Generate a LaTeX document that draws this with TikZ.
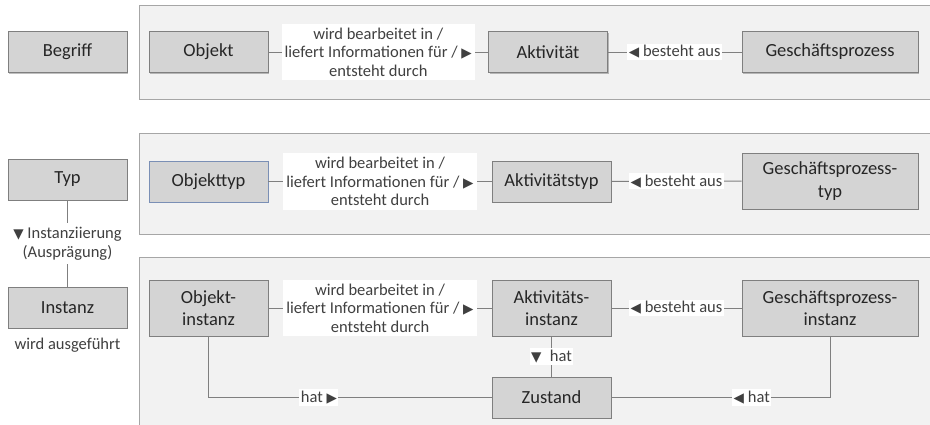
\documentclass[tikz,border=0pt]{standalone}
\usepackage{fontspec}
\setmainfont{Carlito}
\newfontfamily\symf{DejaVu Sans}
\usetikzlibrary{shadows}
\definecolor{panelfill}{HTML}{F2F2F2}
\definecolor{panelline}{HTML}{A6A6A6}
\definecolor{boxfill}{HTML}{D4D4D4}
\definecolor{boxline}{HTML}{7F7F7F}
\definecolor{boxtext}{HTML}{262626}
\definecolor{lbltext}{HTML}{404040}
\definecolor{wire}{HTML}{7F7F7F}
\definecolor{bluish}{HTML}{7A8FB5}
\newcommand{\tri}[1]{{\symf\fontsize{13.5}{13.5}\selectfont #1}}
\begin{document}
\begin{tikzpicture}[x=1pt,y=-1pt,
  panel/.style={fill=panelfill,draw=panelline,line width=0.9pt},
  box/.style={draw=boxline,fill=boxfill,line width=0.9pt,align=center,
    text=boxtext,inner sep=0pt,minimum width=119pt,minimum height=41pt,
    font=\fontsize{18.5}{22.5}\selectfont,
    drop shadow={shadow xshift=1.2pt,shadow yshift=-1.2pt,opacity=0.25,fill=black}},
  wide/.style={minimum width=176pt},
  tall/.style={minimum height=56pt},
  lbl/.style={fill=white,text=lbltext,align=center,inner xsep=1.5pt,inner ysep=1.5pt,
    font=\fontsize{16.5}{18.5}\selectfont},
  biglbl/.style={lbl,inner xsep=3pt,inner ysep=4pt},
  plain/.style={text=lbltext,align=center,inner sep=0pt,font=\fontsize{16.5}{18.5}\selectfont},
  wirestyle/.style={draw=wire,line width=0.9pt}
]
\clip (0,0) rectangle (930,424);
\fill[white] (0,0) rectangle (930,424);
% panels
\draw[panel] (139,5) rectangle (940,99);
\draw[panel] (139,133) rectangle (940,234);
\draw[panel] (139,257) rectangle (940,440);

% left column
\node[box] (begriff) at (67.5,52) {Begriff};
\node[box] (typ) at (67.5,179.5) {Typ};
\node[box] (instanz) at (67.5,307.5) {Instanz};
\node[plain] (ausg) at (67.5,345) {wird ausgeführt};
\draw[wirestyle] (typ) -- node[lbl,inner ysep=4pt,inner xsep=1pt]{\tri{▼} Instanziierung\\(Ausprägung)} (instanz);

% row 1
\node[box] (objekt) at (208.5,52) {Objekt};
\node[box] (akt) at (548,52) {Aktivität};
\node[box,wide] (gp) at (830,52) {Geschäftsprozess};
\draw[wirestyle] (objekt) -- node[biglbl]{wird bearbeitet in /\\liefert Informationen für / \tri{▶}\\entsteht durch} (akt);
\draw[wirestyle] (gp) -- node[lbl]{\tri{◀} besteht aus} (akt);

% row 2
\node[box,draw=bluish] (objtyp) at (208.5,181.5) {Objekttyp};
\node[box] (akttyp) at (551.5,181.5) {Aktivitätstyp};
\node[box,wide,tall] (gptyp) at (830,181) {Geschäftsprozess-\\typ};
\draw[wirestyle] (objtyp) -- node[biglbl]{wird bearbeitet in /\\liefert Informationen für / \tri{▶}\\entsteht durch} (akttyp);
\draw[wirestyle] (gptyp) -- node[lbl]{\tri{◀} besteht aus} (akttyp);

% row 3
\node[box,tall] (objinst) at (208.5,308) {Objekt-\\instanz};
\node[box,tall] (aktinst) at (551.5,308) {Aktivitäts-\\instanz};
\node[box,wide,tall] (gpinst) at (830,308) {Geschäftsprozess-\\instanz};
\node[box] (zustand) at (551.5,397.5) {Zustand};
\draw[wirestyle] (objinst) -- node[biglbl]{wird bearbeitet in /\\liefert Informationen für / \tri{▶}\\entsteht durch} (aktinst);
\draw[wirestyle] (gpinst) -- node[lbl]{\tri{◀} besteht aus} (aktinst);
\draw[wirestyle] (aktinst) -- node[lbl]{\tri{▼}\enspace hat} (zustand);
\draw[wirestyle] (objinst.south) |- node[lbl,pos=0.695]{hat \tri{▶}} (zustand.west);
\draw[wirestyle] (gpinst.south) |- node[lbl,pos=0.679]{\tri{◀} hat} (zustand.east);
\end{tikzpicture}
\end{document}
